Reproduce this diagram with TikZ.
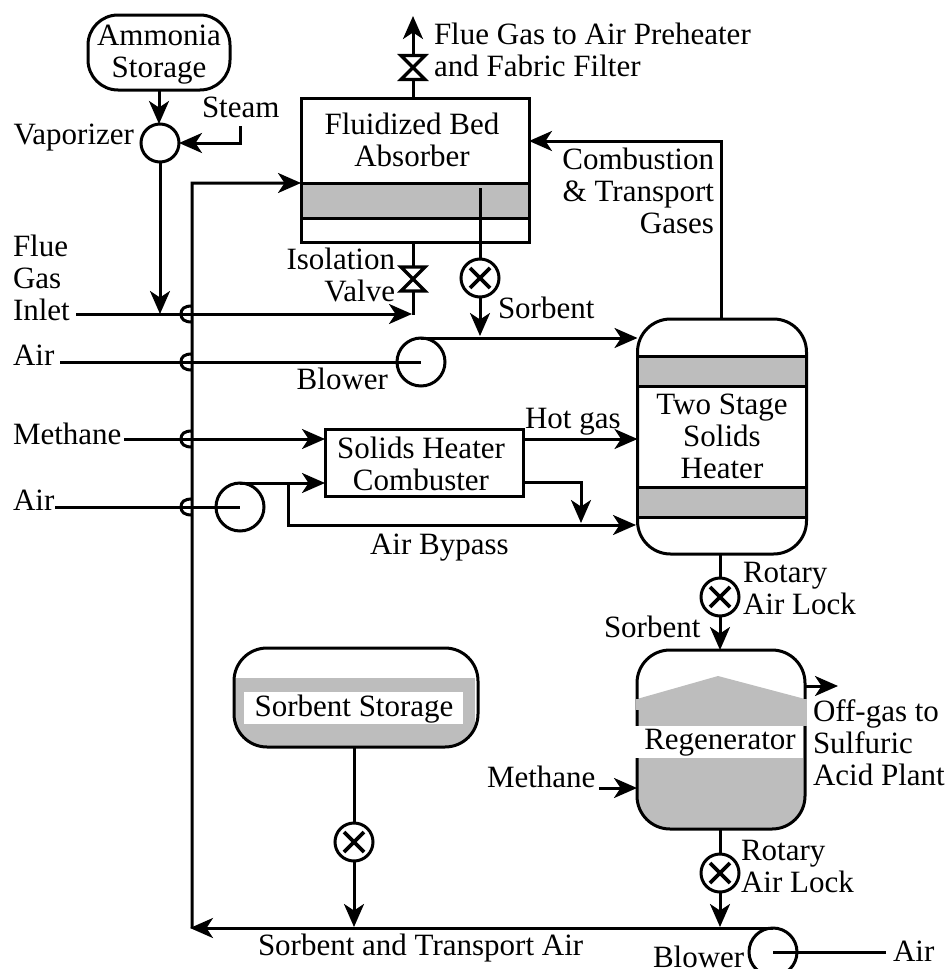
\documentclass[tikz,border=0pt]{standalone}
\usepackage{fontspec}
\setmainfont{Liberation Serif}
\usetikzlibrary{arrows.meta,calc}
\definecolor{bedgray}{HTML}{BDBDBD}
\newcommand{\pipehop}[1]{-- (192,#1-8) .. controls (184,#1-8) and (181,#1-5) .. (181,#1) .. controls (181,#1+5) and (184,#1+8) .. (192,#1+8)}
\tikzset{
  >={Stealth[length=23pt,width=20pt,inset=6.5pt]},
  wire/.style={line width=3pt,line join=miter},
  flow/.style={wire,->},
  lbl/.style={inner sep=0pt,outer sep=0pt,font=\fontsize{31}{32}\selectfont},
  vessel/.style={draw,line width=3pt,inner sep=0pt,outer sep=0pt,minimum width=#1},
  tank/.style={draw,line width=3pt,inner sep=0pt,outer sep=0pt,rounded corners=33pt},
  ring/.style={draw,circle,line width=3pt,inner sep=0pt,outer sep=0pt,minimum size=#1},
  feeder/.style={ring=38pt,path picture={\draw[line width=3.8pt]
     ($(path picture bounding box.center)+(-10,-10)$) -- ++(20,20)
     ($(path picture bounding box.center)+(-10,10)$) -- ++(20,-20);}},
  bow/.style={inner sep=0pt,outer sep=0pt,minimum width=24pt,minimum height=24pt},
  bowline/.style={draw,line width=3.2pt,line join=miter,fill=white},
  bed/.style={draw,line width=3pt,fill=bedgray}
}
\begin{document}
\begin{tikzpicture}[x=1pt,y=-1pt,line width=3pt]
\useasboundingbox (0,0) rectangle (945,969);
\clip (0,0) rectangle (945,969);

% vessels
\node[tank,minimum width=142pt,minimum height=75pt,rounded corners=30pt] (amm) at (159,52.5) {};
\node[ring=38pt] (vap) at (160,143) {};
\node[vessel=228pt,minimum height=144pt] (abs) at (415,170) {};
\draw[bed] (301,183) rectangle (529,218);
\node[tank,minimum width=169pt,minimum height=235pt] (heat) at (722,436.5) {};
\draw[bed] (637.5,356) rectangle (806.5,386);
\draw[bed] (637.5,487) rectangle (806.5,517);
\node[vessel=198pt,minimum height=67pt] (comb) at (424,462.5) {};

% sorbent storage
\begin{scope}
\clip[rounded corners=33pt] (234,648) rectangle (478,747);
\fill[bedgray] (234,678) rectangle (475,747);
\end{scope}
\node[tank,minimum width=244pt,minimum height=99pt] (stor) at (356,697.5) {};
\fill[white] (244,692) rectangle (463,724);

% regenerator
\begin{scope}
\clip[rounded corners=33pt] (637,650) rectangle (805,829);
\fill[bedgray] (637,699) -- (718,676) -- (805,699) -- (805,829) -- (637,829) -- cycle;
\end{scope}
\node[tank,minimum width=168pt,minimum height=179pt] (reg) at (721,739.5) {};
\fill[bedgray] (635.5,699) rectangle (639,710);
\fill[bedgray] (803,699) rectangle (806.5,726);
\fill[white] (635,726) rectangle (803,758);

% rotating equipment and valves
\node[ring=48pt] (bl1) at (421,362) {};
\node[ring=48pt] (bl2) at (240,507) {};
\node[ring=48pt] (bl3) at (773,952) {};
\node[feeder] (rv1) at (480,278) {};
\node[feeder] (rv2) at (720,597) {};
\node[feeder] (rv3) at (720,873) {};
\node[feeder] (rv4) at (354,842) {};
\node[bow] (v1) at (413,67.5) {};
\node[bow] (v2) at (413,279) {};

% free ends and junctions
\coordinate (topout) at (413,16);
\coordinate (steam) at (240,126);
\coordinate (fluein) at (76,314);
\coordinate (flueend) at (412,314);
\coordinate (fluedrop) at (160,314);
\coordinate (v2end) at (413,315);
\coordinate (air1) at (60,362);
\coordinate (air2) at (55,507);
\coordinate (air3) at (886,952);
\coordinate (meth1) at (124,439);
\coordinate (meth2) at (599,788);
\coordinate (rvin) at (480,188);
\coordinate (sorbdrop) at (480,336);
\coordinate (bypass) at (288,482);
\coordinate (bypassin) at (636,525);
\coordinate (offend) at (838,686);
\coordinate (transport) at (720,927);
\coordinate (pipebot) at (192,928);
\coordinate (pipetop) at (192,183);

% connectors
\draw[flow] (amm.south) -- (amm.south |- vap.north);
\draw[flow] (steam) |- (vap.east);
\draw[flow] (vap.south) -- (fluedrop);
\draw[flow] (fluein) -- (flueend);
\draw[wire] (abs.south -| v2) -- (v2end);
\draw[flow] (abs.north -| v1) -- (topout);
\draw[bowline] (v1.north west) -- (v1.north east) -- (v1.south west) -- (v1.south east) -- cycle;
\draw[bowline] (v2.north west) -- (v2.north east) -- (v2.south west) -- (v2.south east) -- cycle;
\draw[wire] (rvin) -- (rv1.north);
\draw[flow] (rv1.south) -- (sorbdrop);
\draw[wire] (air1) -- (bl1.center);
\draw[flow] (bl1.north) -- (bl1.north -| heat.west);
\draw[flow] (heat.north -| 721,0) |- (abs.east |- 0,141);
\draw[flow] (meth1) -- (meth1 -| comb.west);
\draw[wire] (air2) -- (bl2.center);
\draw[flow] (bl2.north) -- (bl2.north -| comb.west);
\draw[flow] (bypass) |- (bypassin);
\draw[flow] (comb.east |- 0,439) -- (heat.west |- 0,439);
\draw[flow] (comb.east |- 0,482) -| (581,523);
\draw[wire] (heat.south -| rv2) -- (rv2.north);
\draw[flow] (rv2.south) -- (reg.north -| rv2);
\draw[flow] (meth2) -- (reg.west |- meth2);
\draw[flow] (reg.east |- offend) -- (offend);
\draw[wire] (reg.south -| rv3) -- (rv3.north);
\draw[flow] (rv3.south) -- (transport);
\draw[wire] (stor.south -| rv4) -- (rv4.north);
\draw[flow] (rv4.south) -- (354,927);
\draw[flow] (bl3.north) -- (190,928);
\draw[wire] (air3) -- (bl3.center);
\draw[flow] (pipebot) \pipehop{507} \pipehop{439} \pipehop{362} \pipehop{314} -- (pipetop) -- (abs.west |- pipetop);

% labels
\node[lbl,anchor=base,align=center] at (159,77) {Ammonia\\Storage};
\node[lbl,anchor=base east] at (134,144) {Vaporizer};
\node[lbl,anchor=base west] at (202,117) {Steam};
\node[lbl,anchor=base west,align=left] at (13,320) {Flue\\Gas\\Inlet};
\node[lbl,anchor=base west] at (13,365) {Air};
\node[lbl,anchor=base east] at (388,389) {Blower};
\node[lbl,anchor=base east,align=right] at (395,301) {Isolation\\Valve};
\node[lbl,anchor=base,align=center] at (412,166) {Fluidized Bed\\Absorber};
\node[lbl,anchor=base west,align=left] at (434,76) {Flue Gas to Air Preheater\\and Fabric Filter};
\node[lbl,anchor=base east,align=right] at (714,233) {Combustion\\\& Transport\\Gases};
\node[lbl,anchor=base west] at (498,318) {Sorbent};
\node[lbl,anchor=base west] at (525,428) {Hot gas};
\node[lbl,anchor=base,align=center] at (722,478) {Two Stage\\Solids\\Heater};
\node[lbl,anchor=base west] at (13,444) {Methane};
\node[lbl,anchor=base,align=center] at (421,490) {Solids Heater\\Combuster};
\node[lbl,anchor=base west] at (13,510) {Air};
\node[lbl,anchor=base west] at (370,554) {Air Bypass};
\node[lbl,anchor=base] at (354,716) {Sorbent Storage};
\node[lbl,anchor=base west,align=left] at (743,614) {Rotary\\Air Lock};
\node[lbl,anchor=base west] at (604,637) {Sorbent};
\node[lbl,anchor=base] at (720,749) {Regenerator};
\node[lbl,anchor=base west,align=left] at (813,785) {Off-gas to\\Sulfuric\\Acid Plant};
\node[lbl,anchor=base west] at (487,787) {Methane};
\node[lbl,anchor=base west,align=left] at (741,892) {Rotary\\Air Lock};
\node[lbl,anchor=base west] at (258,955) {Sorbent and Transport Air};
\node[lbl,anchor=base west] at (653,967) {Blower};
\node[lbl,anchor=base west] at (893,961) {Air};
\end{tikzpicture}
\end{document}
